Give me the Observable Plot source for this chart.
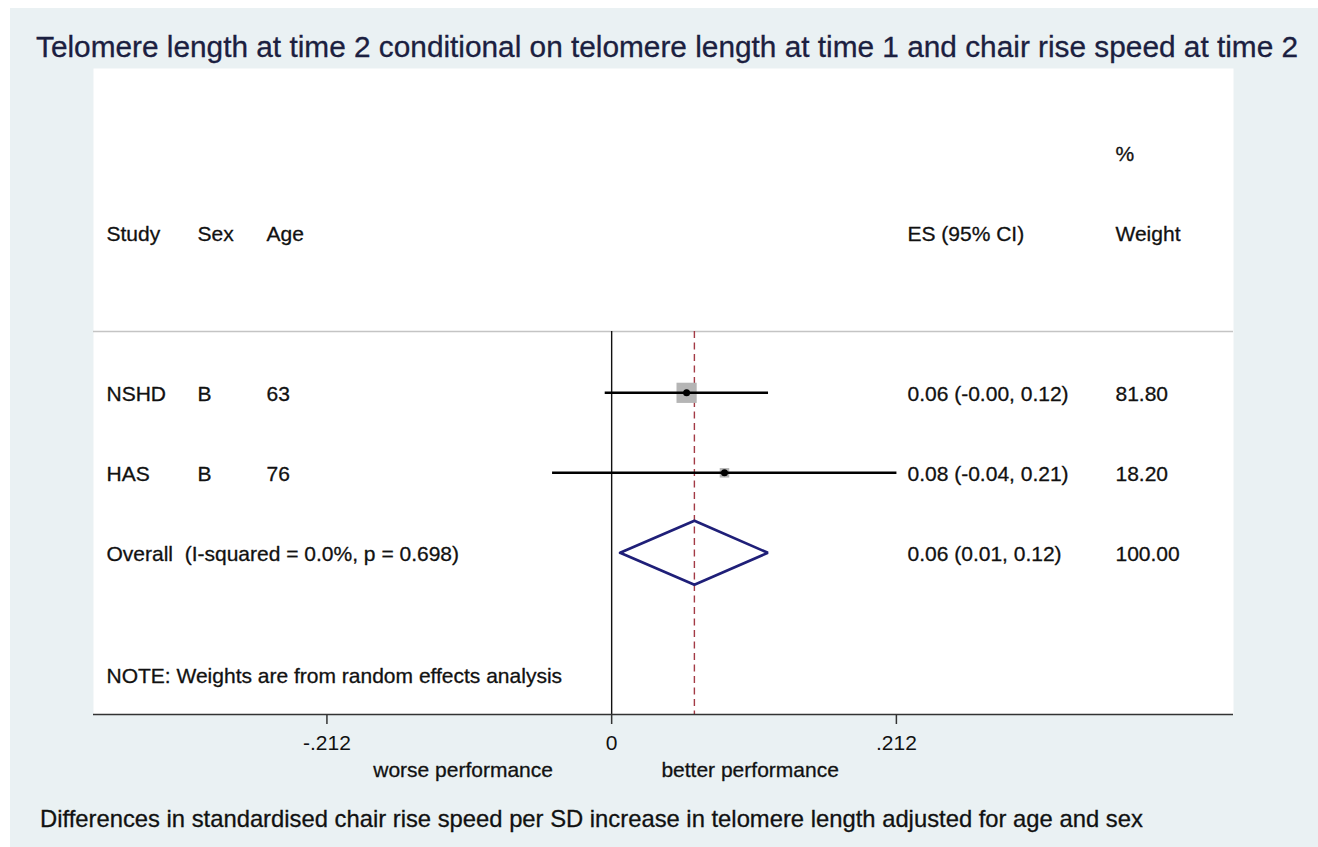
<!DOCTYPE html>
<html>
<head>
<meta charset="utf-8">
<script src="https://cdn.jsdelivr.net/npm/d3@7"></script>
<script src="https://cdn.jsdelivr.net/npm/@observablehq/plot@0.6"></script>
<style>
  html, body { margin: 0; padding: 0; background: #ffffff; }
  body { width: 1318px; height: 847px; position: relative; overflow: hidden;
         font-family: "Liberation Sans", Arial, sans-serif; }
  #bg { position: absolute; left: 10px; top: 8px; width: 1308px; height: 839px; background: #eaf1f3; }
  #title { position: absolute; left: 36px; top: 31.5px; font-size: 29.8px; line-height: 1;
           color: #1b2040; white-space: nowrap; -webkit-text-stroke: 0.3px #1b2040; }
  #chart { position: absolute; left: 0; top: 60px; }
  #caption { position: absolute; left: 40px; top: 806.6px; font-size: 23.8px; line-height: 1;
             color: #111; white-space: nowrap; -webkit-text-stroke: 0.3px #111; }
</style>
</head>
<body>
<div id="bg"></div>
<div id="title"></div>
<div id="chart"></div>
<div id="caption"></div>
<script>
// ---------- data ----------
const studies = ["NSHD", "HAS"];
const sexes = ["B", "B"];
const ages = [63, 76];
const estimates = [0.0558, 0.084];
const lowerCI = [-0.0048, -0.044];
const upperCI = [0.1168, 0.2124];
const weights = [81.8, 18.2];
const overallEstimate = 0.0616;
const overallLower = 0.0063;
const overallUpper = 0.1163;
const overallWeight = 100;
const overallLabel = "Overall\u00a0 (I-squared = 0.0%, p = 0.698)";
const noteLabel = "NOTE: Weights are from random effects analysis";
const columnHeaders = ["Study", "Sex", "Age", "ES (95% CI)", "Weight"];
const tickValues = [-0.212, 0, 0.212];
const tickLabels = ["-.212", "0", ".212"];
const favourLabels = ["worse performance", "better performance"];
const titleText = "Telomere length at time 2 conditional on telomere length at time 1 and chair rise speed at time 2";
const captionText = "Differences in standardised chair rise speed per SD increase in telomere length adjusted for age and sex";

// ---------- layout (not data) ----------
const X_DOMAIN = [-0.3858, 0.4630];
const Y_DOMAIN = [-3.054, 5.021];
const Y_BOTTOM = Y_DOMAIN[1];
const SEP_ROW = 0.234;
const HEADER_ROW = -1;
const PCT_ROW = -2;
const OVERALL_ROW = 3;
const NOTE_ROW = 4.53;
const DIAMOND_HALF = 0.4;
const FAV_X = [-0.1106, 0.1031];
const COL_DX = {study: 13, sex: 104, age: 173, es: 814, weight: 1022};
const TEXT = "#111111";

document.getElementById("title").textContent = titleText;
document.getElementById("caption").textContent = captionText;

const f2 = v => v.toFixed(2);
const esText = (e, l, h) => `${f2(e)} (${f2(l)}, ${f2(h)})`;

const rows = studies.map((s, i) => ({
  study: s, sex: sexes[i], age: String(ages[i]),
  es: estimates[i], lo: lowerCI[i], hi: upperCI[i], w: weights[i],
  row: i + 1,
  esLabel: esText(estimates[i], lowerCI[i], upperCI[i]),
  wLabel: f2(weights[i])
}));

const overallRow = [{
  row: OVERALL_ROW, label: overallLabel,
  esLabel: esText(overallEstimate, overallLower, overallUpper),
  wLabel: f2(overallWeight)
}];

const diamond = [
  {x: overallLower, y: OVERALL_ROW},
  {x: overallEstimate, y: OVERALL_ROW - DIAMOND_HALF},
  {x: overallUpper, y: OVERALL_ROW},
  {x: overallEstimate, y: OVERALL_ROW + DIAMOND_HALF},
  {x: overallLower, y: OVERALL_ROW}
];

const headerRow = [{row: HEADER_ROW}];
const txt = (data, opts) => Plot.text(data, {frameAnchor: "left", textAnchor: "start", fill: TEXT,
  stroke: TEXT, strokeWidth: 0.3, dy: 1, ...opts});

const chart = Plot.plot({
  width: 1318,
  height: 734,
  marginLeft: 93,
  marginRight: 85,
  marginTop: 8,
  marginBottom: 80,
  x: {domain: X_DOMAIN, axis: null},
  y: {domain: Y_DOMAIN, reverse: true, axis: null},
  r: {type: "sqrt", domain: [0, weights[0]], range: [0, 11.4]},
  style: {
    background: "transparent",
    fontFamily: '"Liberation Sans", Arial, sans-serif',
    fontSize: "21px",
    color: TEXT,
    overflow: "visible"
  },
  marks: [
    Plot.frame({fill: "white", stroke: "none"}),
    Plot.ruleY([SEP_ROW], {stroke: "#c4c4c4", strokeWidth: 1.6}),
    Plot.ruleX([0], {y1: SEP_ROW, y2: Y_BOTTOM, stroke: "#111", strokeWidth: 1.4}),
    Plot.ruleX([overallEstimate], {y1: SEP_ROW, y2: Y_BOTTOM, stroke: "#a33a45", strokeWidth: 1.4, strokeDasharray: "7,4.5"}),
    // weight squares
    Plot.dot(rows, {x: "es", y: "row", r: "w", symbol: "square", fill: "#b5b5b5", stroke: "none"}),
    // confidence intervals
    Plot.ruleY(rows, {y: "row", x1: "lo", x2: "hi", stroke: "#000", strokeWidth: 2.4}),
    // point estimates
    Plot.dot(rows, {x: "es", y: "row", r: 3.5, fill: "#000", stroke: "none"}),
    // overall diamond
    Plot.line(diamond, {x: "x", y: "y", stroke: "#1f1f78", strokeWidth: 2.7, strokeLinejoin: "miter"}),
    // axis line and ticks
    Plot.ruleY([Y_BOTTOM], {stroke: "#333", strokeWidth: 1.7}),
    Plot.axisX({anchor: "bottom", ticks: tickValues, tickFormat: d => tickLabels[tickValues.indexOf(d)],
                tickSize: 10, tickPadding: 11, stroke: "#333", strokeWidth: 1.5, fill: TEXT, label: null}),
    Plot.text(favourLabels, {x: (d, i) => FAV_X[i], text: d => d, frameAnchor: "bottom", lineAnchor: "top", dy: 48,
                             fill: TEXT, stroke: TEXT, strokeWidth: 0.3}),
    // column headers
    txt(headerRow, {y: "row", text: () => columnHeaders[0], dx: COL_DX.study}),
    txt(headerRow, {y: "row", text: () => columnHeaders[1], dx: COL_DX.sex}),
    txt(headerRow, {y: "row", text: () => columnHeaders[2], dx: COL_DX.age}),
    txt(headerRow, {y: "row", text: () => columnHeaders[3], dx: COL_DX.es}),
    txt(headerRow, {y: "row", text: () => columnHeaders[4], dx: COL_DX.weight}),
    txt([{row: PCT_ROW}], {y: "row", text: () => "%", dx: COL_DX.weight}),
    // study rows
    txt(rows, {y: "row", text: "study", dx: COL_DX.study}),
    txt(rows, {y: "row", text: "sex", dx: COL_DX.sex}),
    txt(rows, {y: "row", text: "age", dx: COL_DX.age}),
    txt(rows, {y: "row", text: "esLabel", dx: COL_DX.es}),
    txt(rows, {y: "row", text: "wLabel", dx: COL_DX.weight}),
    // overall row
    txt(overallRow, {y: "row", text: "label", dx: COL_DX.study}),
    txt(overallRow, {y: "row", text: "esLabel", dx: COL_DX.es}),
    txt(overallRow, {y: "row", text: "wLabel", dx: COL_DX.weight}),
    // note
    txt([{row: NOTE_ROW}], {y: "row", text: () => noteLabel, dx: COL_DX.study})
  ]
});

document.getElementById("chart").appendChild(chart);
</script>
</body>
</html>
